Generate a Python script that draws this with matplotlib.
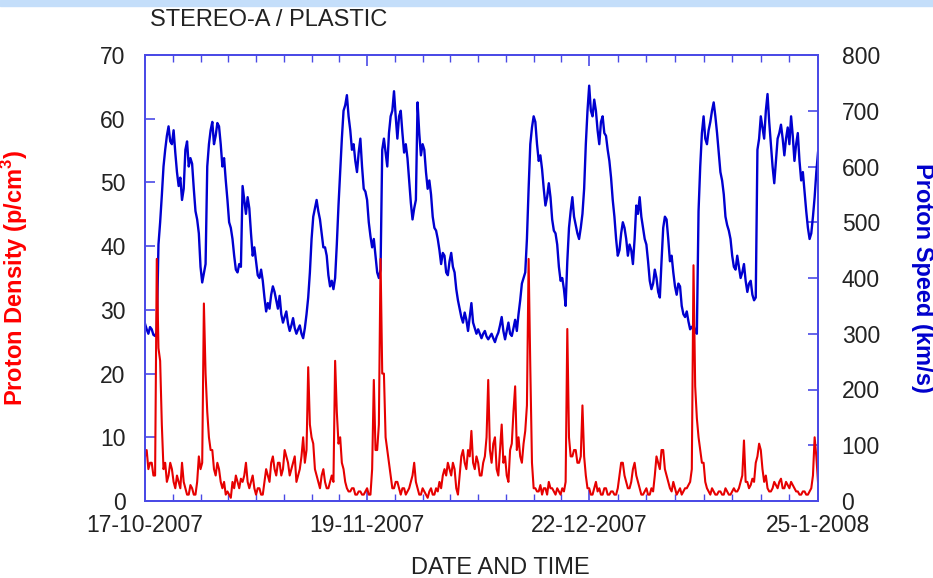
import numpy as np
import pandas as pd
import matplotlib
matplotlib.use("Agg")
import matplotlib.pyplot as plt
import matplotlib.dates as mdates
from matplotlib.patches import Rectangle

plt.rcParams['font.family'] = ['Liberation Sans', 'DejaVu Sans']

# proton speed (km/s), read every quarter day from 17-10-2007
speed = [318, 308, 300, 312, 308, 298, 296, 304, 460, 500,
         548, 600, 630, 655, 672, 645, 640, 665, 625, 590,
         565, 580, 540, 560, 630, 645, 600, 615, 605, 560,
         520, 505, 480, 420, 392, 408, 425, 600, 640, 665,
         680, 640, 655, 678, 672, 640, 600, 615, 575, 540,
         500, 490, 470, 440, 415, 410, 425, 420, 565, 540,
         515, 545, 525, 480, 440, 455, 430, 405, 400, 415,
         395, 365, 340, 355, 345, 370, 385, 375, 360, 345,
         368, 335, 320, 330, 340, 318, 305, 315, 328, 310,
         300, 308, 315, 300, 292, 310, 335, 365, 410, 470,
         510, 525, 540, 520, 505, 480, 455, 455, 440, 405,
         385, 395, 380, 400, 460, 530, 590, 650, 700, 710,
         728, 690, 665, 630, 640, 610, 590, 625, 650, 600,
         560, 555, 540, 500, 475, 455, 470, 440, 410, 400,
         415, 630, 650, 625, 600, 660, 690, 700, 735, 690,
         650, 690, 700, 660, 625, 640, 615, 575, 535, 505,
         525, 540, 715, 660, 620, 640, 630, 590, 560, 575,
         550, 510, 490, 485, 470, 450, 425, 445, 440, 410,
         405, 430, 445, 420, 410, 380, 360, 345, 330, 320,
         338, 325, 305, 330, 355, 320, 310, 300, 308, 300,
         292, 300, 305, 295, 290, 295, 300, 292, 285, 295,
         302, 315, 330, 305, 290, 305, 320, 300, 296, 310,
         325, 305, 335, 360, 390, 400, 410, 470, 560, 640,
         670, 690, 680, 640, 610, 620, 595, 560, 530, 545,
         570, 545, 505, 485, 480, 460, 420, 395, 400, 380,
         350, 430, 490, 520, 545, 510, 495, 480, 470, 490,
         515, 560, 640, 700, 745, 700, 690, 720, 700, 665,
         640, 680, 690, 660, 655, 630, 610, 580, 540, 510,
         470, 440, 450, 480, 500, 490, 470, 440, 460, 450,
         425, 470, 530, 515, 545, 510, 490, 470, 460, 430,
         395, 380, 390, 415, 400, 375, 365, 430, 490, 510,
         505, 470, 430, 440, 410, 385, 370, 390, 385, 350,
         335, 330, 340, 322, 308, 312, 315, 305, 300, 520,
         600, 660, 690, 650, 640, 665, 680, 700, 715, 690,
         660, 625, 590, 575, 550, 510, 495, 485, 470, 440,
         420, 415, 440, 420, 400, 410, 425, 395, 375, 390,
         395, 370, 360, 365, 630, 650, 690, 670, 650, 700,
         730, 680, 640, 600, 570, 610, 650, 660, 675, 650,
         620, 650, 670, 640, 690, 655, 610, 640, 660, 610,
         575, 590, 555, 520, 490, 470, 480, 510, 545, 590,
         625]

# proton density (p/cm3), same quarter-day steps
density = [7, 8, 5, 6, 6, 4, 4, 38, 24, 22,
           12, 5, 6, 3, 4, 6, 5, 3, 2, 4,
           3, 2, 6, 3, 2, 1, 1, 2.5, 2, 1,
           1, 3, 7, 5, 6, 31, 20, 14, 10, 8,
           8, 5, 4, 6, 5, 3, 2, 3, 1, 1.5,
           1, 0.5, 3, 2, 4, 3, 2, 3.5, 3, 4,
           6, 3, 2, 3, 4, 2, 1, 2, 2, 1,
           1, 3, 5, 4, 3, 6, 7, 5, 4, 6,
           6, 4, 5, 8, 7, 6, 4, 5, 6, 7,
           3, 4, 5, 7, 10, 6, 8, 21, 12, 10,
           9, 5, 4, 3, 2, 4, 5, 3, 2, 2,
           3, 4, 3, 22, 14, 9, 10, 6, 5, 3,
           2, 1.5, 1.5, 2, 2, 1, 1, 1.5, 1.5, 1,
           1, 1.5, 2, 1, 1, 5, 19, 8, 8, 12,
           38, 20, 20, 10, 8, 6, 4, 2, 2, 3,
           3, 2, 1, 2, 2, 1, 1.5, 2, 3, 4,
           6, 3, 2, 1, 1, 2, 1.5, 1, 0.5, 1.5,
           2, 1, 1, 2, 1.5, 3, 2, 4, 5, 4,
           6, 5, 4, 6, 5, 2, 1, 4, 7, 8,
           6, 5, 8, 7, 11, 6, 5, 7, 6, 4,
           4, 6, 7, 10, 19, 8, 6, 9, 10, 5,
           4, 8, 12, 6, 7, 4, 3, 8, 9, 14,
           18, 8, 10, 7, 6, 9, 11, 15, 38, 21,
           6, 2, 2, 1.5, 1.5, 2.5, 1, 2, 2, 1,
           3, 2, 2, 1.5, 1, 2, 1.5, 1, 2, 1.5,
           3, 27, 10, 7, 7, 8, 8, 6, 6, 7,
           15, 7, 4, 2, 2, 1, 1, 2, 3, 1.5,
           2, 1, 1, 2, 2, 1, 1, 1.5, 1.5, 1,
           1, 2, 4, 6, 6, 4, 3, 2, 2, 3,
           5, 6, 4, 3, 2, 1, 1, 1.5, 2, 1,
           1, 2, 1.5, 4, 7, 6, 5, 8, 8, 5,
           4, 3, 2, 1.5, 3, 2, 1, 1.5, 2, 1,
           1.5, 2, 2, 2.5, 3, 5, 37, 18, 13, 10,
           8, 6, 6, 3, 2, 1.5, 1, 2, 1.5, 1,
           1, 1.5, 1.5, 1, 1, 2, 1.5, 1, 1, 1.5,
           2, 1.5, 1.5, 2, 3, 4, 9.5, 3, 3, 2,
           2.5, 3.5, 3, 6, 7, 9, 8, 5, 3, 4,
           2, 1.5, 1.5, 2, 3, 2.5, 2, 3, 3.5, 2,
           2, 3, 2.5, 2, 3, 2.5, 2, 1.5, 1.5, 1,
           1, 1.5, 1.5, 1, 1, 1.5, 2, 4, 10, 7,
           3]

tick_dates = ['2007-10-17', '2007-11-19', '2007-12-22', '2008-01-25']
tick_labels = ['17-10-2007', '19-11-2007', '22-12-2007', '25-1-2008']

start = pd.Timestamp(tick_dates[0])
times = start + pd.to_timedelta(np.arange(len(speed)) * 0.25, unit='D')

spine_col = '#4a4ae6'
fs = 16.5
lfs = 17

fig = plt.figure(figsize=(9.33, 5.78), dpi=100)
fig.patches.append(Rectangle((0, 1 - 6 / 578), 1, 6 / 578, transform=fig.transFigure,
                             color='#c4defa', zorder=0))
ax = fig.add_axes([145 / 933, 77 / 578, 673 / 933, 446 / 578])
ax2 = ax.twinx()

ax2.plot(times, speed, color='#0000d0', lw=1.7)
ax.plot(times, density, color='#e60000', lw=1.5)
ax.set_zorder(ax2.get_zorder() + 1)
ax.patch.set_visible(False)

ax.set_ylim(0, 70)
ax2.set_ylim(0, 800)
ax.set_yticks(range(0, 71, 10))
ax2.set_yticks(range(0, 801, 100))

tick_nums = mdates.date2num(pd.to_datetime(tick_dates))
ax.set_xlim(tick_nums[0], tick_nums[-1])
ax.set_xticks(tick_nums)
ax.set_xticklabels(tick_labels)
minor = np.concatenate([np.linspace(a, b, 9)[1:-1] for a, b in zip(tick_nums[:-1], tick_nums[1:])])
ax.set_xticks(minor, minor=True)

for a in (ax, ax2):
    for s in a.spines.values():
        s.set_color(spine_col)
        s.set_linewidth(1.3)
ax.tick_params(axis='x', which='major', direction='in', length=8, width=1.2, color=spine_col,
               top=True, labelsize=fs, pad=9, labelcolor='#222222')
ax.tick_params(axis='x', which='minor', direction='in', length=5, width=1.0, color=spine_col, top=True)
ax.tick_params(axis='y', direction='in', length=7, width=1.2, color=spine_col,
               labelsize=fs, pad=14, labelcolor='#222222')
ax2.tick_params(axis='y', direction='in', length=7, width=1.2, color=spine_col,
                labelsize=fs, pad=17, labelcolor='#222222')

ax.set_ylabel('Proton Density (p/cm$^\\mathregular{3}$)', color='#ff0000', fontsize=lfs,
              fontweight='bold')
ax.yaxis.set_label_coords(-0.171, 0.5)
ax2.set_ylabel('Proton Speed (km/s)', color='#0000cc', fontsize=lfs, fontweight='bold',
               rotation=270, va='center')
ax2.yaxis.set_label_coords(1.155, 0.5)

fig.text(150 / 933, 1 - 20 / 578, 'STEREO-A / PLASTIC', fontsize=lfs, va='center', color='#222222')
fig.text(500 / 933, 1 - 568 / 578, 'DATE AND TIME', fontsize=lfs, ha='center', va='center',
         color='#222222')

fig.savefig('out.png', dpi=100)
